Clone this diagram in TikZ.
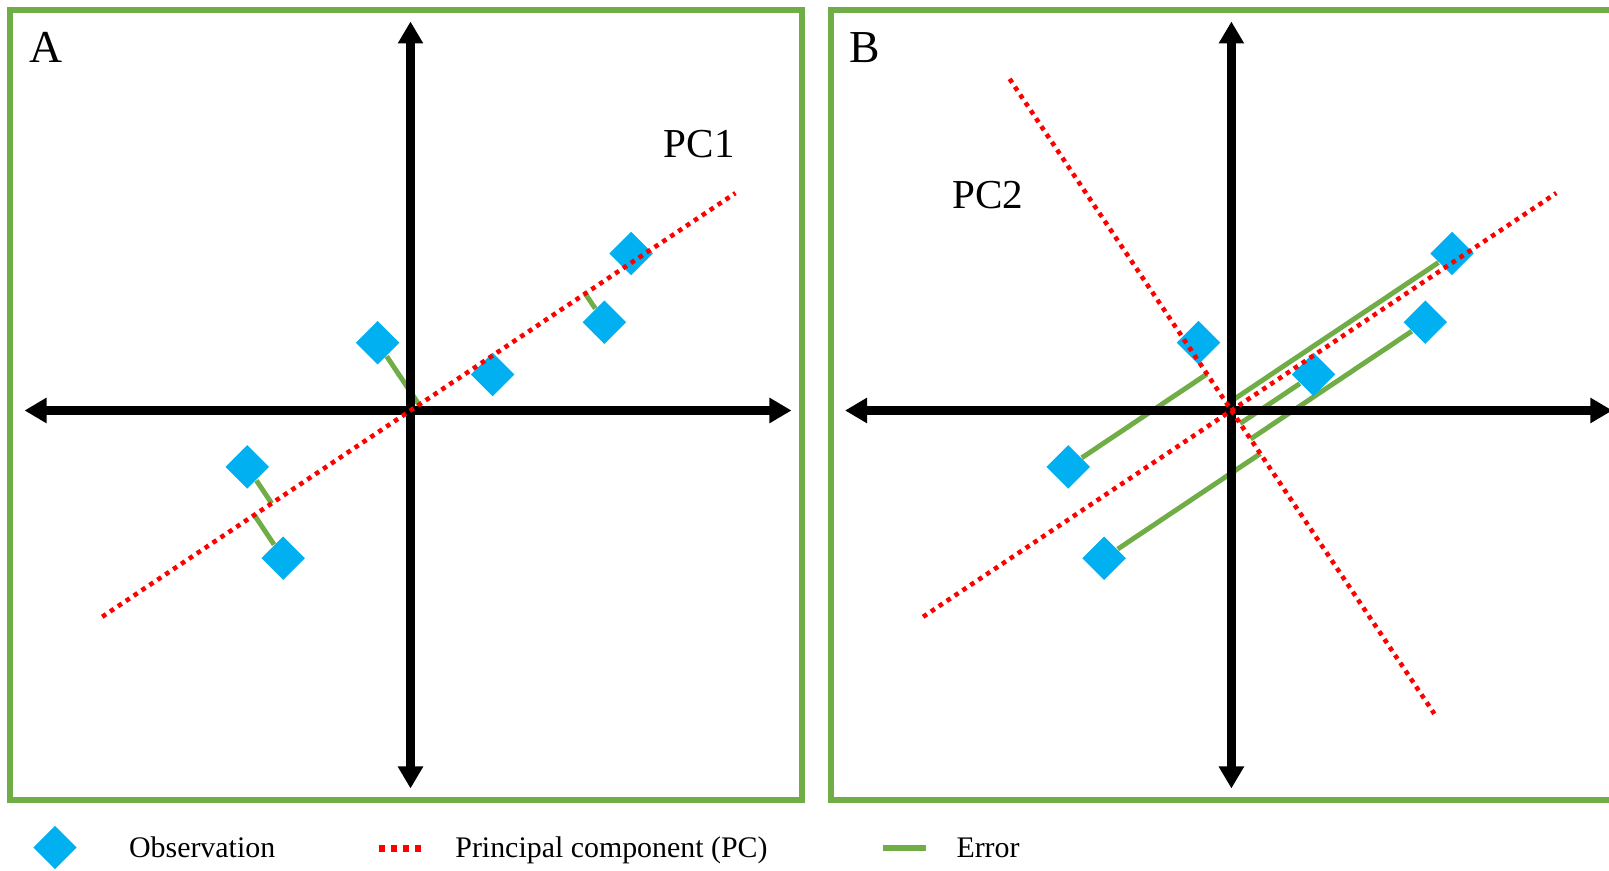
\documentclass[tikz,border=0pt]{standalone}
\usepackage{fontspec}
\setmainfont{Liberation Serif}
\usetikzlibrary{arrows.meta,shapes.geometric,calc,backgrounds}
\definecolor{obsblue}{HTML}{00B0F0}
\definecolor{errgreen}{HTML}{70AD47}

\begin{document}
\begin{tikzpicture}[x=0.01cm,y=-0.01cm,
  panel/.style={draw=errgreen,line width=1.7pt},
  axis/.style={line width=2.5pt,{Triangle[length=0.22cm,width=0.24cm]}-{Triangle[length=0.22cm,width=0.24cm]}},
  pc/.style={red,line width=1.3pt,dash pattern=on 1.3pt off 1.4pt},
  err/.style={errgreen,line width=1.4pt},
  obs/.style={diamond,fill=obsblue,inner sep=0pt,minimum width=0.44cm,minimum height=0.44cm},
  lbl/.style={font=\fontsize{13}{15}\selectfont},
  pclbl/.style={font=\fontsize{11.7}{14}\selectfont},
  leg/.style={font=\fontsize{8.5}{10}\selectfont,anchor=base west,inner sep=0pt}]
\useasboundingbox (0,0) rectangle (1609,871);
\clip (0,0) rectangle (1609,871);
% frames
\draw[panel] (10.3,10.3) rectangle (802,799.7);
\draw[panel] (830.5,10.3) rectangle (1625,799.7);
\node[lbl] (labA) at (46,47) {A};
\node[lbl] (labB) at (865,48) {B};
% Panel A: PC1, errors perpendicular to it
\begin{scope}[shift={(410.5,410.5)}]
\coordinate (xlA) at (-386,0); \coordinate (xrA) at (381,0);
\coordinate (ytA) at (0,-389); \coordinate (ybA) at (0,378);
\coordinate (p1sA) at (-308.3,206.3); \coordinate (p1eA) at (324.9,-217.4);
\draw[axis] (xlA) -- (xrA);
\draw[axis] (ybA) -- (ytA);
\foreach \n/\px/\py in {1/220.6/-157,2/193.9/-88.3,3/-32.9/-67.8,4/82.1/-36,5/-163.2/56.4,6/-127.3/147.7}
  \node[obs] (oA\n) at (\px,\py) {};
\begin{pgfonlayer}{background}
\foreach \n in {2,3,5,6}
  \draw[err] (oA\n) -- ($(p1sA)!(oA\n)!(p1eA)$);
\end{pgfonlayer}
\draw[pc] (p1sA) -- (p1eA);
\node[pclbl] (pc1A) at (288.8,-266.8) {PC1};
\end{scope}
% Panel B: PC2, errors parallel to PC1
\begin{scope}[shift={(1231.4,410.5)}]
\coordinate (xlB) at (-386.4,0); \coordinate (xrB) at (381,0);
\coordinate (ytB) at (0,-389); \coordinate (ybB) at (0,378);
\coordinate (p1sB) at (-308.3,206.3); \coordinate (p1eB) at (324.9,-217.4);
\coordinate (p2sB) at (-221.8,-331.6); \coordinate (p2eB) at (202.9,303.3);
\draw[axis] (xlB) -- (xrB);
\draw[axis] (ybB) -- (ytB);
\foreach \n/\px/\py in {1/220.6/-157,2/193.9/-88.3,3/-32.9/-67.8,4/82.1/-36,5/-163.2/56.4,6/-127.3/147.7}
  \node[obs] (oB\n) at (\px,\py) {};
\begin{pgfonlayer}{background}
\foreach \n in {1,2,4,5,6}
  \draw[err] (oB\n) -- ($(p2sB)!(oB\n)!(p2eB)$);
\end{pgfonlayer}
\draw[pc] (p1sB) -- (p1eB);
\draw[pc] (p2sB) -- (p2eB);
\node[pclbl] (pc2B) at (-243.7,-215.5) {PC2};
\end{scope}
% legend
\node[obs] (legObs) at (55,847.5) {};
\node[leg] (legObsT) at (128.4,858) {Observation};
\coordinate (legPCa) at (379,848.3); \coordinate (legPCb) at (421,848.3);
\draw[pc,line width=1.9pt,dash pattern=on 1.7pt off 1.7pt] (legPCa) -- (legPCb);
\node[leg] (legPCT) at (454.7,858) {Principal component (PC)};
\coordinate (legErra) at (882.8,848.3); \coordinate (legErrb) at (926.3,848.3);
\draw[err,line width=1.7pt] (legErra) -- (legErrb);
\node[leg] (legErrT) at (955.8,858) {Error};
\end{tikzpicture}
\end{document}
